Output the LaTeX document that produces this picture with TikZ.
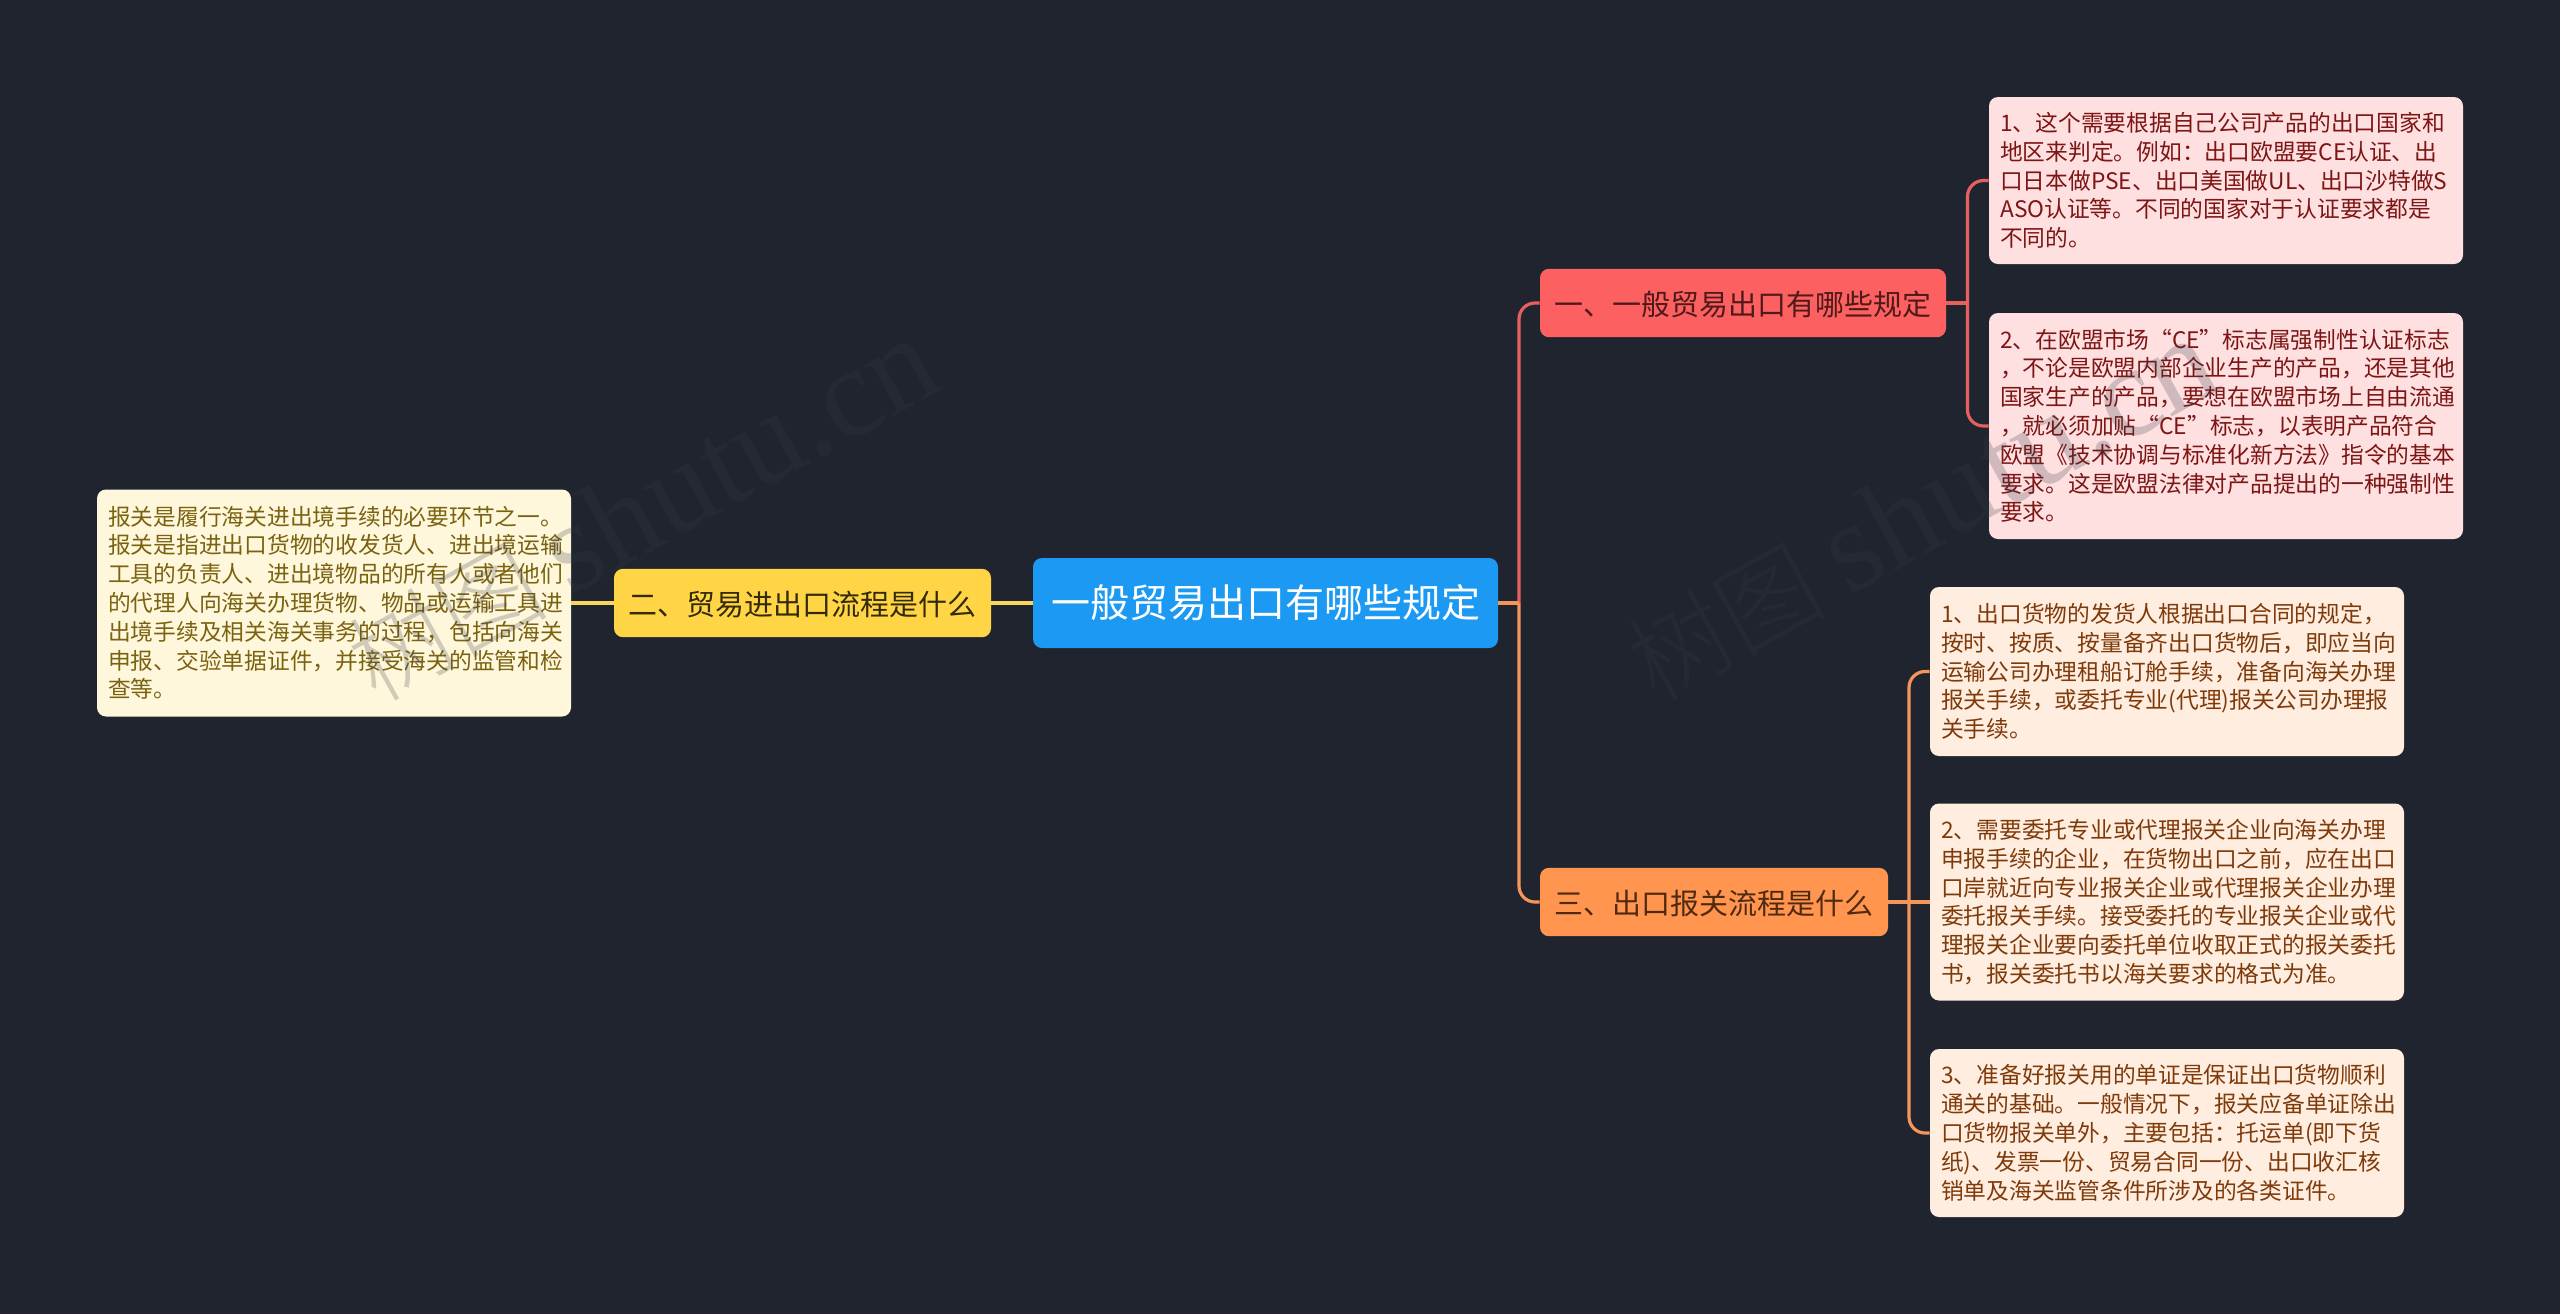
\documentclass[tikz,border=0pt]{standalone}
\usepackage{fontspec}
\setmainfont{Noto Sans CJK SC}
\newfontfamily\wmfont{Liberation Serif}
\newfontfamily\wmcjk{Noto Sans CJK SC Light}
\newcommand{\leafrows}[1]{\raisebox{-1.4pt}[\height][\depth]{\makebox[225.8pt][l]{\begin{tabular}{@{}l@{}}#1\end{tabular}}}}
\newcommand{\brtext}[1]{\raisebox{-0.6pt}[\height][\depth]{#1}}
\definecolor{bgc}{HTML}{20242F}
\definecolor{rootc}{HTML}{1C9AF3}
\definecolor{redc}{HTML}{FC6060}
\definecolor{orangec}{HTML}{FF954F}
\definecolor{yellowc}{HTML}{FFD545}
\definecolor{redl}{HTML}{E5605F}
\definecolor{orangel}{HTML}{F4965A}
\definecolor{yellowl}{HTML}{F7D55E}
\definecolor{pinkf}{HTML}{FFE0E0}
\definecolor{peachf}{HTML}{FFEDE0}
\definecolor{creamf}{HTML}{FFF7DC}
\definecolor{redt}{HTML}{7D1515}
\definecolor{oranget}{HTML}{7F3A0A}
\definecolor{yellowt}{HTML}{7A6310}
\definecolor{redb}{HTML}{501A1A}
\definecolor{orangeb}{HTML}{4F2A10}
\definecolor{yellowb}{HTML}{332A08}
\definecolor{wmc}{HTML}{363B46}
\tikzset{
  x=0.5pt,y=-0.5pt,
  box/.style={rounded corners=4.5pt,inner sep=0pt,align=center},
  rootbox/.style={box,fill=rootc,text=white,minimum width=232.5pt,minimum height=45pt,font=\fontsize{19.5}{24}\selectfont},
  branch/.style={box,minimum height=34.2pt,font=\fontsize{14.5}{18}\selectfont},
  leaf/.style={box,minimum width=237pt,font=\fontsize{11.37}{14.4}\selectfont},
  conn/.style={line width=1.6pt,rounded corners=8pt},
  wmark/.style={text=wmc,text opacity=0.23,rotate=29,inner sep=0pt,anchor=base west}
}
\begin{document}
\begin{tikzpicture}
\fill[bgc] (0,0) rectangle (2560,1314);
\useasboundingbox (0,0) rectangle (2560,1314);
% nodes
\node[rootbox] (root) at (1265.5,603) {一般贸易出口有哪些规定};
\node[branch,fill=redc,text=redb,minimum width=203pt] (red) at (1743,303) {\brtext{一、一般贸易出口有哪些规定}};
\node[branch,fill=orangec,text=orangeb,minimum width=174pt] (orange) at (1714,902) {\brtext{三、出口报关流程是什么}};
\node[branch,fill=yellowc,text=yellowb,minimum width=188.5pt] (yellow) at (802.5,603) {\brtext{二、贸易进出口流程是什么}};
\node[leaf,fill=creamf,text=yellowt,minimum height=113.5pt] (leftleaf) at (334,603) {\leafrows{
报关是履行海关进出境手续的必要环节之一。\\
报关是指进出口货物的收发货人、进出境运输\\
工具的负责人、进出境物品的所有人或者他们\\
的代理人向海关办理货物、物品或运输工具进\\
出境手续及相关海关事务的过程，包括向海关\\
申报、交验单据证件，并接受海关的监管和检\\
查等。}};
\node[leaf,fill=pinkf,text=redt,minimum height=83.5pt] (ra) at (2226,180.5) {\leafrows{
1、这个需要根据自己公司产品的出口国家和\\
地区来判定。例如：出口欧盟要CE认证、出\\
口日本做PSE、出口美国做UL、出口沙特做S\\
ASO认证等。不同的国家对于认证要求都是\\
不同的。}};
\node[leaf,fill=pinkf,text=redt,minimum height=113pt] (rb) at (2226,426) {\leafrows{
2、在欧盟市场“CE”标志属强制性认证标志\\
，不论是欧盟内部企业生产的产品，还是其他\\
国家生产的产品，要想在欧盟市场上自由流通\\
，就必须加贴“CE”标志，以表明产品符合\\
欧盟《技术协调与标准化新方法》指令的基本\\
要求。这是欧盟法律对产品提出的一种强制性\\
要求。}};
\node[leaf,fill=peachf,text=oranget,minimum height=84.5pt] (oa) at (2167,671.5) {\leafrows{
1、出口货物的发货人根据出口合同的规定，\\
按时、按质、按量备齐出口货物后，即应当向\\
运输公司办理租船订舱手续，准备向海关办理\\
报关手续，或委托专业(代理)报关公司办理报\\
关手续。}};
\node[leaf,fill=peachf,text=oranget,minimum height=98.5pt] (ob) at (2167,902) {\leafrows{
2、需要委托专业或代理报关企业向海关办理\\
申报手续的企业，在货物出口之前，应在出口\\
口岸就近向专业报关企业或代理报关企业办理\\
委托报关手续。接受委托的专业报关企业或代\\
理报关企业要向委托单位收取正式的报关委托\\
书，报关委托书以海关要求的格式为准。}};
\node[leaf,fill=peachf,text=oranget,minimum height=84pt] (oc) at (2167,1133) {\leafrows{
3、准备好报关用的单证是保证出口货物顺利\\
通关的基础。一般情况下，报关应备单证除出\\
口货物报关单外，主要包括：托运单(即下货\\
纸)、发票一份、贸易合同一份、出口收汇核\\
销单及海关监管条件所涉及的各类证件。}};
% connectors
\coordinate (tr) at (1519,603);
\coordinate (br) at (1967.5,303);
\coordinate (bo) at (1909,902);
\draw[conn,redl] (tr) |- (red.west);
\draw[conn,orangel] (tr) |- (orange.west);
\draw[conn,orangel] (root.east) -- (tr);
\draw[conn,yellowl] (root.west) -- (yellow.east);
\draw[conn,yellowl] (yellow.west) -- (leftleaf.east);
\draw[conn,redl] (red.east) -- (br);
\draw[conn,redl] (br) |- (ra.west);
\draw[conn,redl] (br) |- (rb.west);
\draw[conn,orangel] (orange.east) -- (ob.west);
\draw[conn,orangel] (bo) |- (oa.west);
\draw[conn,orangel] (bo) |- (oc.west);
% watermark
\node[wmark] (wma) at (376,704) {\fontsize{50}{56}\selectfont\wmcjk 树图 \fontsize{64}{70}\selectfont\wmfont shutu.cn};
\node[wmark] (wmb) at (1655,704) {\fontsize{50}{56}\selectfont\wmcjk 树图 \fontsize{64}{70}\selectfont\wmfont shutu.cn};
\end{tikzpicture}
\end{document}
